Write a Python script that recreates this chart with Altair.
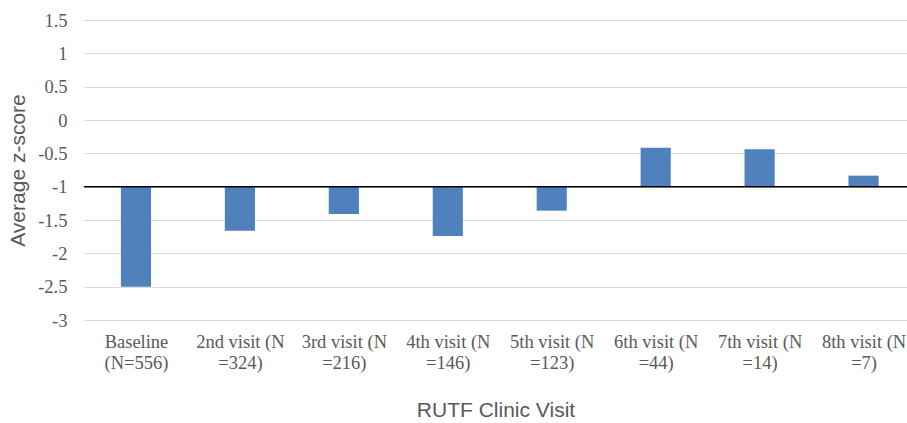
import altair as alt
import pandas as pd

labels = ["Baseline\n(N=556)", "2nd visit (N\n=324)", "3rd visit (N\n=216)", "4th visit (N\n=146)",
          "5th visit (N\n=123)", "6th visit (N\n=44)", "7th visit (N\n=14)", "8th visit (N\n=7)"]
values = [-2.5, -1.66, -1.41, -1.74, -1.36, -0.415, -0.44, -0.835]
baseline = -1
y_ticks = [-3, -2.5, -2, -1.5, -1, -0.5, 0, 0.5, 1, 1.5]

df = pd.DataFrame({"idx": list(range(len(labels))), "label": labels, "value": values})
df["base"] = baseline

label_js = "[" + ",".join("['" + l.split("\n")[0] + "','" + l.split("\n")[1] + "']" for l in labels) + "]"

xscale = alt.Scale(domain=[-0.5, 7.418], nice=False, zero=False)
yscale = alt.Scale(domain=[-3, 1.5], nice=False)

yaxis = alt.Axis(values=y_ticks, tickCount=10,
                 labelExpr="datum.value + ''", labelOverlap=False,
                 grid=True, gridColor="#d9d9d9", gridWidth=1.2,
                 ticks=False, domain=False,
                 labelFont="Liberation Serif", labelFontSize=18.5, labelColor="#595959",
                 labelPadding=17,
                 title="Average z-score", titleFont="Liberation Sans", titleFontSize=21,
                 titleFontWeight="normal", titleColor="#595959", titlePadding=9)

bars = alt.Chart(df).transform_calculate(
    x0="datum.idx - 0.145", x1="datum.idx + 0.145"
).mark_bar(color="#4f81bd").encode(
    x=alt.X("x0:Q", scale=xscale,
            axis=alt.Axis(values=list(range(8)), labelExpr=label_js + "[round(datum.value)]",
                          grid=False, ticks=False, domain=False, labelOverlap=False,
                          labelFont="Liberation Serif", labelFontSize=18.5, labelColor="#595959",
                          labelLineHeight=21, labelPadding=12, labelBaseline="top",
                          title="RUTF Clinic Visit", titleFont="Liberation Sans", titleFontSize=21,
                          titleFontWeight="normal", titleColor="#595959", titlePadding=28)),
    x2="x1:Q",
    y=alt.Y("base:Q", scale=yscale, axis=yaxis),
    y2="value:Q",
)

rule = alt.Chart(pd.DataFrame({"y": [baseline]})).mark_rule(color="#000000", strokeWidth=1.5).encode(
    y=alt.Y("y:Q", scale=yscale, axis=yaxis)
)

chart = alt.layer(bars, rule).properties(
    width=823, height=300,
    autosize=alt.AutoSizeParams(type="none"),
    padding={"left": 84, "top": 20, "right": 0, "bottom": 103},
).configure_view(stroke=None)

chart.save("out.html", embed_options={"renderer": "svg", "actions": False})
